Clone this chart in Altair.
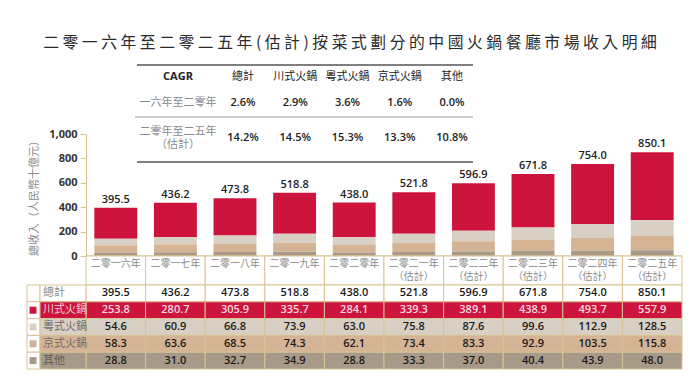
import altair as alt
import pandas as pd

# ---------------- data ----------------
title_text = "二 零 一 六 年 至 二 零 二 五 年 ( 估 計 ) 按 菜 式 劃 分 的 中 國 火 鍋 餐 廳 市 場 收 入 明 細"
years = ["二零一六年", "二零一七年", "二零一八年", "二零一九年", "二零二零年",
         "二零二一年", "二零二二年", "二零二三年", "二零二四年", "二零二五年"]
estimated = [False, False, False, False, False, True, True, True, True, True]
estimate_note = "（估計）"

totals = [395.5, 436.2, 473.8, 518.8, 438.0, 521.8, 596.9, 671.8, 754.0, 850.1]
series_names = ["川式火鍋", "粵式火鍋", "京式火鍋", "其他"]
sichuan = [253.8, 280.7, 305.9, 335.7, 284.1, 339.3, 389.1, 438.9, 493.7, 557.9]
cantonese = [54.6, 60.9, 66.8, 73.9, 63.0, 75.8, 87.6, 99.6, 112.9, 128.5]
beijing = [58.3, 63.6, 68.5, 74.3, 62.1, 73.4, 83.3, 92.9, 103.5, 115.8]
others = [28.8, 31.0, 32.7, 34.9, 28.8, 33.3, 37.0, 40.4, 43.9, 48.0]
series_values = [sichuan, cantonese, beijing, others]
stack_rank = [3, 2, 1, 0]  # 0 = bottom of the stack

y_ticks = [0, 200, 400, 600, 800, 1000]
y_title = "總收入（人民幣十億元）"
total_row = "總計"

cagr_header = "CAGR"
cagr_cols = ["總計", "川式火鍋", "粵式火鍋", "京式火鍋", "其他"]
cagr_periods = ["一六年至二零年", "二零年至二五年\n（估計）"]
cagr_1620 = ["2.6%", "2.9%", "3.6%", "1.6%", "0.0%"]
cagr_2025 = ["14.2%", "14.5%", "15.3%", "13.3%", "10.8%"]

# ---------------- styles ----------------
CJK = "Noto Sans CJK TC"
NUM = "Open Sans"
series_colors = ["#cc143c", "#d8d0c4", "#d4b494", "#a89a88"]
row_order = [total_row] + series_names
row_fill = ["#ffffff"] + series_colors
row_text = ["#1a1a1a", "#f7dbe2", "#1a1a1a", "#1a1a1a", "#1a1a1a"]
row_label = ["#8a8a8a", "#f3cbd5", "#6e6e6e", "#6e6e6e", "#5a5a5a"]
TAN = "#d8c393"

# ---------------- tables ----------------
bars_df = pd.DataFrame([
    {"year": y, "series": s, "value": vals[i], "ord": r}
    for s, vals, r in zip(series_names, series_values, stack_rank)
    for i, y in enumerate(years)
])
tot_df = pd.DataFrame({"year": years, "total": totals})
lab_df = pd.DataFrame({
    "year": years,
    "label": [y + ("\n" + estimate_note if e else "") for y, e in zip(years, estimated)],
})
tab_rows = []
for i, y in enumerate(years):
    tab_rows.append({"year": y, "row": total_row, "txt": f"{totals[i]:.1f}"})
    for s, vals in zip(series_names, series_values):
        tab_rows.append({"year": y, "row": s, "txt": f"{vals[i]:.1f}"})
tab_df = pd.DataFrame(tab_rows)
rows_df = pd.DataFrame({"row": row_order})
swatch_df = pd.DataFrame({"row": series_names})
cagr_df = pd.DataFrame(
    [{"period": cagr_periods[0], "col": c, "v": v} for c, v in zip(cagr_cols, cagr_1620)]
    + [{"period": cagr_periods[1], "col": c, "v": v} for c, v in zip(cagr_cols, cagr_2025)]
)
cagr_head_df = pd.DataFrame({"col": cagr_cols})
period_df = pd.DataFrame({"period": cagr_periods})
one = pd.DataFrame({"a": [0]})

# ---------------- scales ----------------
X_BAR = alt.Scale(type="band", domain=years, paddingInner=0.28, paddingOuter=0.14)
Y_BAR = alt.Scale(domain=[0, 1000], range=[191, 69], nice=False, zero=True)
X_TAB = alt.Scale(type="band", domain=years, paddingInner=0, paddingOuter=0)
Y_TAB = alt.Scale(type="band", domain=row_order, range=[220, 304], paddingInner=0, paddingOuter=0)
X_CAGR = alt.Scale(type="point", domain=cagr_cols, range=[157, 366], padding=0)
Y_CAGR = alt.Scale(type="point", domain=cagr_periods, range=[38, 73], padding=0)
Y_CAGR_LBL = alt.Scale(type="point", domain=cagr_periods, range=[38, 67], padding=0)

# ---------------- bar chart ----------------
bars = alt.Chart(bars_df).mark_bar().encode(
    x=alt.X("year:N", scale=X_BAR, axis=None),
    y=alt.Y("value:Q", stack="zero", scale=Y_BAR,
            axis=alt.Axis(values=y_ticks, format=",.0f", grid=False,
                          labelFont=NUM, labelFontWeight="bold", labelFontSize=11,
                          labelColor="#333333", labelPadding=3,
                          domainColor=TAN, tickColor=TAN, tickSize=6,
                          title=y_title, titleFont=CJK, titleFontSize=11,
                          titleFontWeight="normal", titleColor="#8a8a8a", titlePadding=9)),
    color=alt.Color("series:N", scale=alt.Scale(domain=series_names, range=series_colors), legend=None),
    order=alt.Order("ord:Q"),
)
tot_text = alt.Chart(tot_df).mark_text(dy=-3, font=NUM, fontWeight=600, fontSize=11,
                                        color="#222222", baseline="bottom").encode(
    x=alt.X("year:N", scale=X_BAR, axis=None),
    y=alt.Y("total:Q", scale=Y_BAR),
    text=alt.Text("total:Q", format=".1f"),
)
baseline = alt.Chart(pd.DataFrame({"v": [0]})).mark_rule(color=TAN, strokeWidth=1).encode(
    y=alt.Y("v:Q", scale=Y_BAR)
)
bar_layer = alt.layer(bars, tot_text, baseline)

# ---------------- bottom table ----------------
head_cells = alt.Chart(lab_df).mark_rect(fill="#ffffff", stroke=TAN, strokeWidth=1).encode(
    x=alt.X("year:N", scale=X_TAB, axis=None),
    y=alt.value(191), y2=alt.value(220),
)
head_text = alt.Chart(lab_df).mark_text(lineBreak="\n", baseline="top", font=CJK, fontSize=10,
                                        lineHeight=13, color="#8a8a8a").encode(
    x=alt.X("year:N", scale=X_TAB, axis=None),
    y=alt.value(194),
    text="label:N",
)
cells = alt.Chart(tab_df).mark_rect(stroke=TAN, strokeWidth=1).encode(
    x=alt.X("year:N", scale=X_TAB, axis=None),
    y=alt.Y("row:N", scale=Y_TAB, axis=None),
    color=alt.Color("row:N", scale=alt.Scale(domain=row_order, range=row_fill), legend=None),
)
sq_cells = alt.Chart(rows_df).mark_rect(fill="#ffffff", stroke=TAN, strokeWidth=1).encode(
    x=alt.value(-59), x2=alt.value(-46),
    y=alt.Y("row:N", scale=Y_TAB, axis=None),
)
label_cells = alt.Chart(rows_df).mark_rect(stroke=TAN, strokeWidth=1).encode(
    x=alt.value(-46), x2=alt.value(0),
    y=alt.Y("row:N", scale=Y_TAB, axis=None),
    color=alt.Color("row:N", scale=alt.Scale(domain=row_order, range=row_fill), legend=None),
)
swatches = alt.Chart(swatch_df).mark_square(size=49, opacity=1).encode(
    x=alt.value(-53),
    y=alt.Y("row:N", scale=Y_TAB, axis=None),
    color=alt.Color("row:N", scale=alt.Scale(domain=series_names, range=series_colors), legend=None),
)
row_labels = alt.Chart(rows_df).mark_text(align="left", font=CJK, fontSize=11).encode(
    x=alt.value(-43),
    y=alt.Y("row:N", scale=Y_TAB, axis=None),
    text="row:N",
    color=alt.Color("row:N", scale=alt.Scale(domain=row_order, range=row_label), legend=None),
)
cell_text = alt.Chart(tab_df).mark_text(font=NUM, fontWeight=600, fontSize=11).encode(
    x=alt.X("year:N", scale=X_TAB, axis=None),
    y=alt.Y("row:N", scale=Y_TAB, axis=None),
    text="txt:N",
    color=alt.Color("row:N", scale=alt.Scale(domain=row_order, range=row_text), legend=None),
)

# ---------------- CAGR table ----------------
rule_top = alt.Chart(one).mark_rule(color="#555555", strokeWidth=1.3).encode(
    x=alt.value(51), x2=alt.value(387), y=alt.value(0))
rule_mid = alt.Chart(one).mark_rule(color="#9a9a9a", strokeWidth=1).encode(
    x=alt.value(49), x2=alt.value(387), y=alt.value(52))
rule_bot = alt.Chart(one).mark_rule(color="#555555", strokeWidth=1.3).encode(
    x=alt.value(51), x2=alt.value(387), y=alt.value(97))
cagr_title = alt.Chart(one).mark_text(font=NUM, fontWeight="bold", fontSize=11, color="#222222").encode(
    x=alt.value(92), y=alt.value(12), text=alt.value(cagr_header))
cagr_head = alt.Chart(cagr_head_df).mark_text(font=CJK, fontSize=11, color="#222222").encode(
    x=alt.X("col:N", scale=X_CAGR, axis=None), y=alt.value(12), text="col:N")
cagr_period = alt.Chart(period_df).mark_text(lineBreak="\n", font=CJK, fontSize=11, lineHeight=12.5,
                                             color="#8a8a8a").encode(
    x=alt.value(92), y=alt.Y("period:N", scale=Y_CAGR_LBL, axis=None), text="period:N")
cagr_vals = alt.Chart(cagr_df).mark_text(font=NUM, fontWeight=600, fontSize=11, color="#222222").encode(
    x=alt.X("col:N", scale=X_CAGR, axis=None),
    y=alt.Y("period:N", scale=Y_CAGR, axis=None),
    text="v:N",
)

chart = alt.layer(
    rule_top, rule_mid, rule_bot, cagr_title, cagr_head, cagr_period, cagr_vals,
    bar_layer,
    head_cells, head_text, cells, sq_cells, label_cells, swatches, row_labels, cell_text,
).resolve_scale(
    x="independent", y="independent", color="independent"
).properties(
    width=596, height=304,
    autosize=alt.AutoSizeParams(type="none"),
    padding={"left": 78, "top": 57, "right": 7, "bottom": 7},
    title=alt.Title(title_text, font=CJK, fontSize=15.8, fontWeight="normal", color="#2a2a2a",
                    anchor="middle", dx=-34, offset=13),
).configure_view(strokeWidth=0)

chart.save("out.html", embed_options={"renderer": "svg", "actions": False})
